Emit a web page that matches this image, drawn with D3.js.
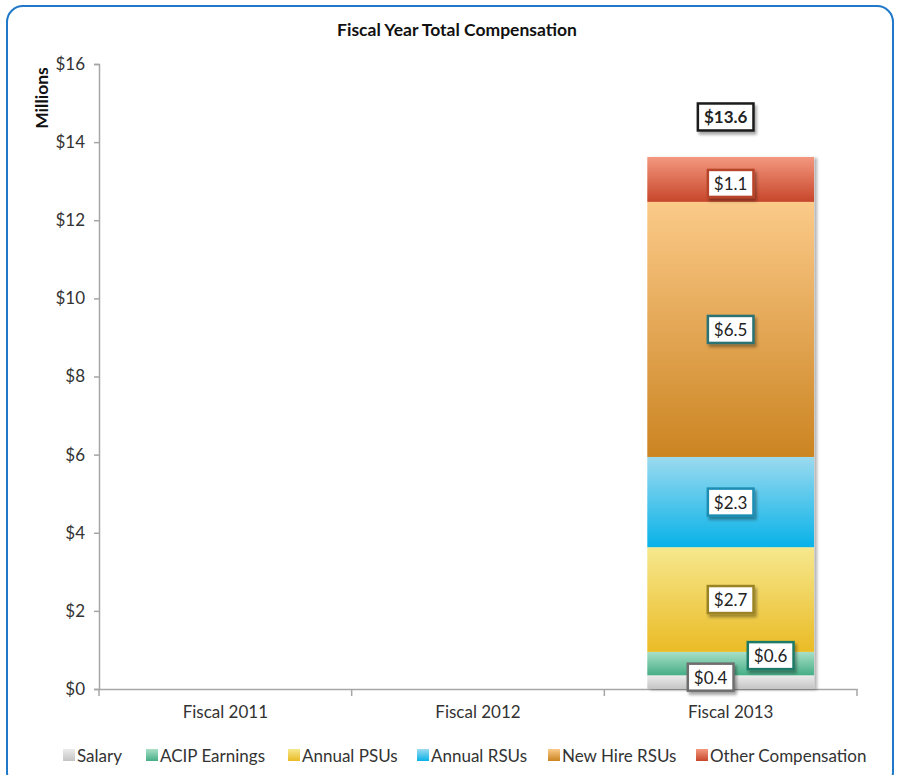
<!DOCTYPE html>
<html><head><meta charset="utf-8">
<script src="https://cdn.jsdelivr.net/npm/d3@7"></script>
<style>body{margin:0;background:#fff;} text{font-family:Lato,"Open Sans",sans-serif;}</style>
</head><body>
<svg id="c" width="897" height="775"></svg>
<script>
const categories = ["Fiscal 2011","Fiscal 2012","Fiscal 2013"];
const seriesNames = ["Salary","ACIP Earnings","Annual PSUs","Annual RSUs","New Hire RSUs","Other Compensation"];
const salary = [0,0,0.35];
const acip = [0,0,0.6];
const annualPSUs = [0,0,2.68];
const annualRSUs = [0,0,2.31];
const newHireRSUs = [0,0,6.53];
const otherComp = [0,0,1.15];
const segLabels = ["$0.4","$0.6","$2.7","$2.3","$6.5","$1.1"];
const totalLabel = "$13.6";
const yTicks = [0,2,4,6,8,10,12,14,16];

const seriesVals = [salary,acip,annualPSUs,annualRSUs,newHireRSUs,otherComp];
const grads = [["#ececec","#c4c4c4"],["#a8dfc6","#46ae86"],["#f6e88e","#eabb25"],["#9bdaef","#08b2e8"],["#fbca89","#cb8421"],["#f3987f","#c7462a"]];
const borders = ["#6e6e6e","#1e7a66","#9a8320","#1a8db3","#2a7273","#b8452b"];
const labelOffsets = [[-20,-5],[40,-8],[0,0],[0,0],[0,0],[0,4]];
const FS = 17;

const svg = d3.select("#c");
const defs = svg.append("defs");
grads.forEach((g,i)=>{
  const lg = defs.append("linearGradient").attr("id","g"+i).attr("x1",0).attr("x2",0).attr("y1",0).attr("y2",1);
  lg.append("stop").attr("offset","0%").attr("stop-color",g[0]);
  lg.append("stop").attr("offset","100%").attr("stop-color",g[1]);
});
const f = defs.append("filter").attr("id","sh").attr("x","-20%").attr("y","-20%").attr("width","160%").attr("height","160%");
f.append("feDropShadow").attr("dx",2).attr("dy",3).attr("stdDeviation",1.5).attr("flood-color","#000").attr("flood-opacity",0.35);
const f2 = defs.append("filter").attr("id","bsh").attr("x","-10%").attr("y","-10%").attr("width","130%").attr("height","130%");
f2.append("feDropShadow").attr("dx",3).attr("dy",1).attr("stdDeviation",1.5).attr("flood-color","#000").attr("flood-opacity",0.3);

// frame
svg.append("rect").attr("x",7).attr("y",6).attr("width",886).attr("height",782).attr("rx",16)
  .attr("fill","#fff").attr("stroke","#1f78c8").attr("stroke-width",2);

const x = d3.scaleBand().domain(categories).range([99,857]).paddingInner(0).paddingOuter(0);
const y = d3.scaleLinear().domain([0,16]).range([689,64]);

svg.append("text").attr("x",457).attr("y",36).attr("text-anchor","middle").attr("font-weight","bold")
  .attr("font-size",17.5).attr("fill","#111").text("Fiscal Year Total Compensation");
svg.append("text").attr("transform","translate(48,98) rotate(-90)").attr("text-anchor","middle")
  .attr("font-weight","bold").attr("font-size",17.5).attr("fill","#111").text("Millions");

// y axis
const ya = svg.append("g").attr("transform","translate(99,0)")
  .call(d3.axisLeft(y).tickValues(yTicks).tickFormat(d=>"$"+d).tickSize(5).tickPadding(9));
ya.select(".domain").attr("stroke","#a6a6a6").attr("stroke-width",1.5);
ya.selectAll(".tick line").attr("stroke","#a6a6a6").attr("stroke-width",1.5);
ya.selectAll(".tick text").attr("font-size",FS).attr("fill","#333").style("font-family","Lato,'Open Sans',sans-serif");

// x axis
const xa = svg.append("g").attr("transform","translate(0,689)")
  .call(d3.axisBottom(x).tickSize(0).tickPadding(17));
xa.select(".domain").attr("stroke","#a6a6a6").attr("stroke-width",1.5);
xa.selectAll(".tick text").attr("font-size",FS).attr("fill","#333").style("font-family","Lato,'Open Sans',sans-serif");
const bounds = categories.map(c=>x(c)).concat([x.range()[1]]);
xa.selectAll(".bnd").data(bounds).enter().append("line").attr("class","bnd")
  .attr("x1",d=>d).attr("x2",d=>d).attr("y1",0).attr("y2",7).attr("stroke","#a6a6a6").attr("stroke-width",1.5);

// stacked bars
const barW = x.bandwidth()*0.66;
const stacked = [];
categories.forEach((c,ci)=>{
  let base = 0;
  seriesVals.forEach((s,si)=>{
    stacked.push({c,ci,si,y0:base,y1:base+s[ci],v:s[ci]});
    base += s[ci];
  });
});
const bars = stacked.filter(d=>d.v>0);
categories.forEach((c,ci)=>{
  const tot = d3.sum(seriesVals,s=>s[ci]);
  if(tot>0){
    svg.append("rect").attr("x",x(c)+x.bandwidth()/2-barW/2).attr("width",barW)
      .attr("y",y(tot)).attr("height",y(0)-y(tot)).attr("fill","#fff").attr("filter","url(#bsh)");
  }
});
svg.selectAll(".seg").data(bars).enter().append("rect").attr("class","seg")
  .attr("x",d=>x(d.c)+x.bandwidth()/2-barW/2).attr("width",barW)
  .attr("y",d=>y(d.y1)).attr("height",d=>y(d.y0)-y(d.y1))
  .attr("fill",d=>"url(#g"+d.si+")");

function labelBox(cx,cy,txt,border,bold,fs){
  const g = svg.append("g");
  const t = g.append("text").attr("x",cx).attr("y",cy).attr("text-anchor","middle").attr("dominant-baseline","central")
    .attr("font-size",fs).attr("font-weight",bold?"bold":"normal").attr("fill","#222").text(txt);
  const bb = t.node().getBBox();
  const w = bb.width+12, h = 27;
  g.insert("rect","text").attr("x",cx-w/2).attr("y",cy-h/2).attr("width",w).attr("height",h)
    .attr("fill","#fff").attr("stroke",border).attr("stroke-width",2.5).attr("filter","url(#sh)");
}
bars.forEach(d=>{
  const cx = x(d.c)+x.bandwidth()/2 + labelOffsets[d.si][0];
  const cy = y((d.y0+d.y1)/2) + labelOffsets[d.si][1];
  labelBox(cx,cy,segLabels[d.si],borders[d.si],false,FS);
});
categories.forEach((c,ci)=>{
  const tot = d3.sum(seriesVals,s=>s[ci]);
  if(tot>0) labelBox(x(c)+x.bandwidth()/2-5, y(tot)-40, totalLabel, "#1a1a1a", true, FS);
});

// legend
const legX = [63,146,288,417,548,696];
const lg = svg.append("g");
seriesNames.forEach((n,i)=>{
  lg.append("rect").attr("x",legX[i]).attr("y",749).attr("width",12).attr("height",12).attr("fill","url(#g"+i+")");
  lg.append("text").attr("x",legX[i]+14).attr("y",755).attr("dominant-baseline","central")
    .attr("font-size",FS).attr("fill","#333").text(n);
});
</script>
</body></html>
